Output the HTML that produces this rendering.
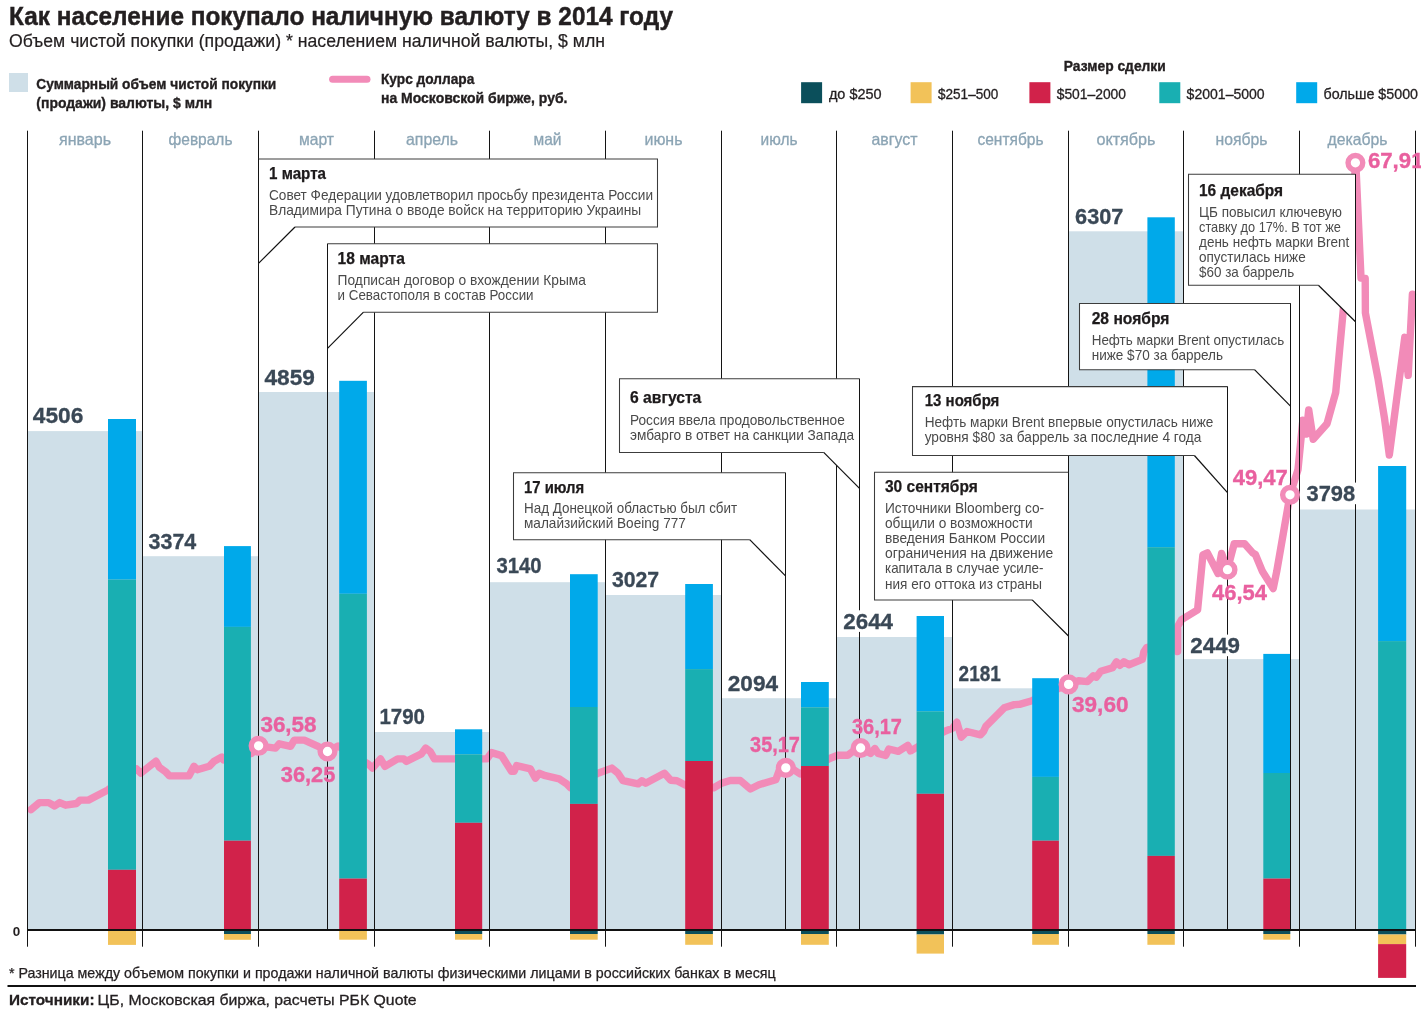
<!DOCTYPE html>
<html lang="ru"><head><meta charset="utf-8"><title>Как население покупало наличную валюту в 2014 году</title>
<style>html,body{margin:0;padding:0;background:#fff}svg{display:block}text{font-family:"Liberation Sans",Arial,sans-serif}.b{font-weight:bold}</style></head><body>
<svg width="1421" height="1012" viewBox="0 0 1421 1012">
<rect width="1421" height="1012" fill="#fff"/>
<text x="9" y="24.6" font-size="25" fill="#231F20" class="b" textLength="664" lengthAdjust="spacingAndGlyphs" stroke="#231F20" stroke-width="0.45">Как население покупало наличную валюту в 2014 году</text>
<text x="9" y="47.2" font-size="17.5" fill="#231F20" textLength="596" lengthAdjust="spacingAndGlyphs" stroke="#231F20" stroke-width="0.2">Объем чистой покупки (продажи) * населением наличной валюты, $ млн</text>
<rect x="9" y="73" width="19" height="19" fill="#CFDFE8"/>
<text x="36.3" y="89" font-size="14" fill="#231F20" class="b" textLength="240" lengthAdjust="spacingAndGlyphs" stroke="#231F20" stroke-width="0.35">Суммарный объем чистой покупки</text>
<text x="36.3" y="107.7" font-size="14" fill="#231F20" class="b" textLength="176" lengthAdjust="spacingAndGlyphs" stroke="#231F20" stroke-width="0.35">(продажи) валюты, $ млн</text>
<line x1="332.6" y1="79.2" x2="367" y2="79.2" stroke="#F28BB8" stroke-width="7" stroke-linecap="round"/>
<text x="381" y="83.6" font-size="14" fill="#231F20" class="b" textLength="93.3" lengthAdjust="spacingAndGlyphs" stroke="#231F20" stroke-width="0.35">Курс доллара</text>
<text x="381" y="102.9" font-size="14" fill="#231F20" class="b" textLength="186.5" lengthAdjust="spacingAndGlyphs" stroke="#231F20" stroke-width="0.35">на Московской бирже, руб.</text>
<text x="1063.8" y="71" font-size="14" fill="#231F20" class="b" textLength="102" lengthAdjust="spacingAndGlyphs" stroke="#231F20" stroke-width="0.35">Размер сделки</text>
<rect x="801.1" y="82.2" width="21" height="21" fill="#0B4F5B"/>
<text x="828.9" y="98.6" font-size="14" fill="#231F20" textLength="52.7" lengthAdjust="spacingAndGlyphs" stroke="#231F20" stroke-width="0.3">до $250</text>
<rect x="910.6" y="82.2" width="21" height="21" fill="#F2C259"/>
<text x="938" y="98.6" font-size="14" fill="#231F20" textLength="60.3" lengthAdjust="spacingAndGlyphs" stroke="#231F20" stroke-width="0.3">$251–500</text>
<rect x="1029.3999999999999" y="82.2" width="21" height="21" fill="#D1224A"/>
<text x="1056.7" y="98.6" font-size="14" fill="#231F20" textLength="69.3" lengthAdjust="spacingAndGlyphs" stroke="#231F20" stroke-width="0.3">$501–2000</text>
<rect x="1159.3" y="82.2" width="21" height="21" fill="#19AFB2"/>
<text x="1186.6" y="98.6" font-size="14" fill="#231F20" textLength="78.1" lengthAdjust="spacingAndGlyphs" stroke="#231F20" stroke-width="0.3">$2001–5000</text>
<rect x="1296.1999999999998" y="82.2" width="21" height="21" fill="#00A9EA"/>
<text x="1323.5" y="98.6" font-size="14" fill="#231F20" textLength="94.5" lengthAdjust="spacingAndGlyphs" stroke="#231F20" stroke-width="0.3">больше $5000</text>
<rect x="27.5" y="431.1" width="115.0" height="498.9" fill="#CFDFE8"/>
<rect x="142.5" y="556.2" width="116.0" height="373.8" fill="#CFDFE8"/>
<rect x="258.5" y="392.0" width="116.0" height="538.0" fill="#CFDFE8"/>
<rect x="374.5" y="732.0" width="115.0" height="198.0" fill="#CFDFE8"/>
<rect x="489.5" y="582.2" width="116.0" height="347.8" fill="#CFDFE8"/>
<rect x="605.5" y="595.0" width="116.0" height="335.0" fill="#CFDFE8"/>
<rect x="721.5" y="698.2" width="115.0" height="231.8" fill="#CFDFE8"/>
<rect x="836.5" y="637.0" width="116.0" height="293.0" fill="#CFDFE8"/>
<rect x="952.5" y="688.3" width="116.0" height="241.7" fill="#CFDFE8"/>
<rect x="1068.5" y="231.3" width="115.0" height="698.7" fill="#CFDFE8"/>
<rect x="1183.5" y="659.1" width="116.0" height="270.9" fill="#CFDFE8"/>
<rect x="1299.5" y="509.5" width="116.0" height="420.5" fill="#CFDFE8"/>
<path d="M31,809.6 L39.4,802.6 L48.7,802.6 L54.6,806 L59.7,802.6 L65.6,805.2 L76.6,803.5 L80,800.1 L88.4,800.1 L107.8,790 L136.5,768.8 L140.8,773.1 L156,761.2 L159.3,767.2 L165.2,771.4 L169.5,775.9 L188.9,775.9 L194,766.3 L197.3,769.7 L209.2,766.3 L214.2,761.2 L221.8,757 L223.5,760 L251.7,753.4 L258.5,745.8 L275.5,748.1 L279.3,743.8 L290.6,746.3 L294.3,740.1 L304.3,740.1 L318.1,746.3 L327.4,751.9 L338,746 L368,763.9 L372.5,768.1 L380.5,758.9 L385,766.4 L397.6,758.9 L403.8,758.9 L406.3,761.4 L421.4,753.9 L425.6,748.1 L430.1,751.4 L434.4,758.9 L455.2,758.9 L487,758.9 L491.5,752.6 L501.5,755.6 L511.6,771.4 L514.1,771.4 L516.6,765.6 L530.4,768.9 L535.4,778.2 L539.1,773.2 L545.4,775.7 L559.2,778.9 L566.7,783.9 L570.4,787.7 L598,773.2 L611.8,768.1 L618,773.2 L623,780.7 L638.1,783.9 L641.8,780.7 L645.6,783.2 L664.4,773.2 L670.7,780.2 L676.9,780.7 L685.7,785.2 L713.8,787.8 L721.7,783.1 L730.2,780.5 L740.3,780.5 L750.4,789 L758.9,784.8 L767.3,782.2 L775.8,779.7 L779.2,770.4 L785.9,767.7 L792.7,769 L800.2,774 L830.3,758.2 L837.8,755.2 L847.8,755.2 L852.8,751.4 L860.8,747.7 L870.5,753.4 L874.9,748.6 L878.1,753.4 L885.7,755.5 L888.8,749 L898.3,751.3 L907.8,745.4 L910.4,751 L915.4,748.1 L944.2,731.5 L952.7,728.1 L956.9,722.2 L961.3,737.2 L967,731.5 L980.5,734.8 L983.5,731.5 L985.8,726.4 L1004.2,707.8 L1014.3,704.6 L1019.5,704.4 L1032,700.7 L1060,688 L1068.8,684.6 L1078.5,680.8 L1087.4,681.6 L1093.4,675.7 L1096.3,677.2 L1100.8,671.3 L1112.6,667.7 L1116.5,661.8 L1120,665.3 L1123.9,661.8 L1129,664.7 L1142.3,659.4 L1143.8,652 L1146.7,647.5 L1176.5,640 L1177.6,651.6 L1177.6,626.5 L1181.6,619.6 L1197.6,609.8 L1202.9,554.9 L1207.4,552.9 L1218,573.5 L1221.6,553.5 L1227.4,569.6 L1234.2,543.8 L1244.6,543.8 L1252.7,552.9 L1255.4,554.5 L1262.5,571.6 L1273.2,588.5 L1276.7,571.6 L1284.6,526 L1290,494.9 L1298,469.6 L1302.8,420.3 L1306.3,434.1 L1308.7,409.9 L1313.2,439.3 L1327,423.7 L1335.7,392.6 L1343.3,309.7 L1355.8,163 L1361,278 L1365.2,278.5 L1365.4,313 L1378,378.5 L1384.4,417.6 L1389.3,455 L1404.8,337.3 L1408.2,375.3 L1412.4,294.1" fill="none" stroke="#F28BB8" stroke-width="7.4" stroke-linejoin="round" stroke-linecap="round"/>
<rect x="108.0" y="419.0" width="28.0" height="160.6" fill="#00A9EA"/>
<rect x="108.0" y="579.6" width="28.0" height="290.2" fill="#19AFB2"/>
<rect x="108.0" y="869.8" width="28.0" height="60.2" fill="#D1224A"/>
<rect x="108.0" y="930.0" width="28.0" height="14.9" fill="#F2C259"/>
<rect x="224.0" y="546.1" width="26.9" height="80.8" fill="#00A9EA"/>
<rect x="224.0" y="626.9" width="26.9" height="213.8" fill="#19AFB2"/>
<rect x="224.0" y="840.7" width="26.9" height="89.3" fill="#D1224A"/>
<rect x="224.0" y="930.0" width="26.9" height="4.0" fill="#0B4F5B"/>
<rect x="224.0" y="934.0" width="26.9" height="5.8" fill="#F2C259"/>
<rect x="339.2" y="380.8" width="27.7" height="213.0" fill="#00A9EA"/>
<rect x="339.2" y="593.8" width="27.7" height="284.8" fill="#19AFB2"/>
<rect x="339.2" y="878.6" width="27.7" height="51.4" fill="#D1224A"/>
<rect x="339.2" y="930.0" width="27.7" height="0.8" fill="#0B4F5B"/>
<rect x="339.2" y="930.8" width="27.7" height="8.9" fill="#F2C259"/>
<rect x="455.0" y="729.3" width="27.2" height="25.0" fill="#00A9EA"/>
<rect x="455.0" y="754.3" width="27.2" height="68.5" fill="#19AFB2"/>
<rect x="455.0" y="822.8" width="27.2" height="107.2" fill="#D1224A"/>
<rect x="455.0" y="930.0" width="27.2" height="4.0" fill="#0B4F5B"/>
<rect x="455.0" y="934.0" width="27.2" height="5.7" fill="#F2C259"/>
<rect x="570.0" y="574.2" width="27.7" height="132.8" fill="#00A9EA"/>
<rect x="570.0" y="707.0" width="27.7" height="96.9" fill="#19AFB2"/>
<rect x="570.0" y="803.9" width="27.7" height="126.1" fill="#D1224A"/>
<rect x="570.0" y="930.0" width="27.7" height="4.0" fill="#0B4F5B"/>
<rect x="570.0" y="934.0" width="27.7" height="5.7" fill="#F2C259"/>
<rect x="685.2" y="584.0" width="27.7" height="85.1" fill="#00A9EA"/>
<rect x="685.2" y="669.1" width="27.7" height="91.9" fill="#19AFB2"/>
<rect x="685.2" y="761.0" width="27.7" height="169.0" fill="#D1224A"/>
<rect x="685.2" y="930.0" width="27.7" height="4.0" fill="#0B4F5B"/>
<rect x="685.2" y="934.0" width="27.7" height="10.8" fill="#F2C259"/>
<rect x="801.0" y="682.0" width="27.8" height="25.3" fill="#00A9EA"/>
<rect x="801.0" y="707.3" width="27.8" height="58.7" fill="#19AFB2"/>
<rect x="801.0" y="766.0" width="27.8" height="164.0" fill="#D1224A"/>
<rect x="801.0" y="930.0" width="27.8" height="4.0" fill="#0B4F5B"/>
<rect x="801.0" y="934.0" width="27.8" height="10.8" fill="#F2C259"/>
<rect x="916.6" y="616.0" width="27.4" height="95.3" fill="#00A9EA"/>
<rect x="916.6" y="711.3" width="27.4" height="82.5" fill="#19AFB2"/>
<rect x="916.6" y="793.8" width="27.4" height="136.2" fill="#D1224A"/>
<rect x="916.6" y="930.0" width="27.4" height="4.5" fill="#0B4F5B"/>
<rect x="916.6" y="934.5" width="27.4" height="19.1" fill="#F2C259"/>
<rect x="1032.2" y="678.2" width="26.7" height="98.7" fill="#00A9EA"/>
<rect x="1032.2" y="776.9" width="26.7" height="63.8" fill="#19AFB2"/>
<rect x="1032.2" y="840.7" width="26.7" height="89.3" fill="#D1224A"/>
<rect x="1032.2" y="930.0" width="26.7" height="4.0" fill="#0B4F5B"/>
<rect x="1032.2" y="934.0" width="26.7" height="10.8" fill="#F2C259"/>
<rect x="1147.4" y="217.3" width="27.4" height="329.9" fill="#00A9EA"/>
<rect x="1147.4" y="547.2" width="27.4" height="308.7" fill="#19AFB2"/>
<rect x="1147.4" y="855.9" width="27.4" height="74.1" fill="#D1224A"/>
<rect x="1147.4" y="930.0" width="27.4" height="4.0" fill="#0B4F5B"/>
<rect x="1147.4" y="934.0" width="27.4" height="10.8" fill="#F2C259"/>
<rect x="1263.3" y="653.9" width="27.0" height="119.1" fill="#00A9EA"/>
<rect x="1263.3" y="773.0" width="27.0" height="105.6" fill="#19AFB2"/>
<rect x="1263.3" y="878.6" width="27.0" height="51.4" fill="#D1224A"/>
<rect x="1263.3" y="930.0" width="27.0" height="4.0" fill="#0B4F5B"/>
<rect x="1263.3" y="934.0" width="27.0" height="5.7" fill="#F2C259"/>
<rect x="1378.1" y="466.0" width="28.1" height="175.1" fill="#00A9EA"/>
<rect x="1378.1" y="641.1" width="28.1" height="288.9" fill="#19AFB2"/>
<rect x="1378.1" y="930.0" width="28.1" height="4.5" fill="#0B4F5B"/>
<rect x="1378.1" y="934.5" width="28.1" height="9.6" fill="#F2C259"/>
<rect x="1378.1" y="944.1" width="28.1" height="33.8" fill="#D1224A"/>
<line x1="27.5" y1="130.7" x2="27.5" y2="946.7" stroke="#141414" stroke-width="1"/>
<line x1="142.5" y1="130.7" x2="142.5" y2="946.7" stroke="#141414" stroke-width="1"/>
<line x1="258.5" y1="130.7" x2="258.5" y2="946.7" stroke="#141414" stroke-width="1"/>
<line x1="374.5" y1="130.7" x2="374.5" y2="946.7" stroke="#141414" stroke-width="1"/>
<line x1="489.5" y1="130.7" x2="489.5" y2="946.7" stroke="#141414" stroke-width="1"/>
<line x1="605.5" y1="130.7" x2="605.5" y2="946.7" stroke="#141414" stroke-width="1"/>
<line x1="721.5" y1="130.7" x2="721.5" y2="946.7" stroke="#141414" stroke-width="1"/>
<line x1="836.5" y1="130.7" x2="836.5" y2="946.7" stroke="#141414" stroke-width="1"/>
<line x1="952.5" y1="130.7" x2="952.5" y2="946.7" stroke="#141414" stroke-width="1"/>
<line x1="1068.5" y1="130.7" x2="1068.5" y2="946.7" stroke="#141414" stroke-width="1"/>
<line x1="1183.5" y1="130.7" x2="1183.5" y2="946.7" stroke="#141414" stroke-width="1"/>
<line x1="1299.5" y1="130.7" x2="1299.5" y2="946.7" stroke="#141414" stroke-width="1"/>
<line x1="1415.5" y1="130.7" x2="1415.5" y2="946.7" stroke="#141414" stroke-width="1"/>
<text x="59.0" y="144.8" font-size="16.5" fill="#8BA4B4" textLength="52" lengthAdjust="spacingAndGlyphs" stroke="#8BA4B4" stroke-width="0.3">январь</text>
<text x="168.5" y="144.8" font-size="16.5" fill="#8BA4B4" textLength="64" lengthAdjust="spacingAndGlyphs" stroke="#8BA4B4" stroke-width="0.3">февраль</text>
<text x="299.0" y="144.8" font-size="16.5" fill="#8BA4B4" textLength="35" lengthAdjust="spacingAndGlyphs" stroke="#8BA4B4" stroke-width="0.3">март</text>
<text x="406.0" y="144.8" font-size="16.5" fill="#8BA4B4" textLength="52" lengthAdjust="spacingAndGlyphs" stroke="#8BA4B4" stroke-width="0.3">апрель</text>
<text x="533.5" y="144.8" font-size="16.5" fill="#8BA4B4" textLength="28" lengthAdjust="spacingAndGlyphs" stroke="#8BA4B4" stroke-width="0.3">май</text>
<text x="644.5" y="144.8" font-size="16.5" fill="#8BA4B4" textLength="38" lengthAdjust="spacingAndGlyphs" stroke="#8BA4B4" stroke-width="0.3">июнь</text>
<text x="760.5" y="144.8" font-size="16.5" fill="#8BA4B4" textLength="37" lengthAdjust="spacingAndGlyphs" stroke="#8BA4B4" stroke-width="0.3">июль</text>
<text x="871.5" y="144.8" font-size="16.5" fill="#8BA4B4" textLength="46" lengthAdjust="spacingAndGlyphs" stroke="#8BA4B4" stroke-width="0.3">август</text>
<text x="977.5" y="144.8" font-size="16.5" fill="#8BA4B4" textLength="66" lengthAdjust="spacingAndGlyphs" stroke="#8BA4B4" stroke-width="0.3">сентябрь</text>
<text x="1096.5" y="144.8" font-size="16.5" fill="#8BA4B4" textLength="59" lengthAdjust="spacingAndGlyphs" stroke="#8BA4B4" stroke-width="0.3">октябрь</text>
<text x="1215.5" y="144.8" font-size="16.5" fill="#8BA4B4" textLength="52" lengthAdjust="spacingAndGlyphs" stroke="#8BA4B4" stroke-width="0.3">ноябрь</text>
<text x="1327.5" y="144.8" font-size="16.5" fill="#8BA4B4" textLength="60" lengthAdjust="spacingAndGlyphs" stroke="#8BA4B4" stroke-width="0.3">декабрь</text>
<line x1="27" y1="930" x2="1416" y2="930" stroke="#111" stroke-width="2"/>
<text x="12.8" y="935.5" font-size="12.4" fill="#231F20" class="b" textLength="7.5" lengthAdjust="spacingAndGlyphs" >0</text>
<line x1="258.5" y1="159.0" x2="258.5" y2="930" stroke="#141414" stroke-width="1"/>
<line x1="327.5" y1="243.8" x2="327.5" y2="930" stroke="#141414" stroke-width="1"/>
<line x1="859.5" y1="378.8" x2="859.5" y2="930" stroke="#141414" stroke-width="1"/>
<line x1="785.5" y1="472.8" x2="785.5" y2="930" stroke="#141414" stroke-width="1"/>
<line x1="1227.5" y1="386.6" x2="1227.5" y2="930" stroke="#141414" stroke-width="1"/>
<line x1="1068.5" y1="472.2" x2="1068.5" y2="930" stroke="#141414" stroke-width="1"/>
<line x1="1290.5" y1="303.4" x2="1290.5" y2="930" stroke="#141414" stroke-width="1"/>
<line x1="1355.5" y1="174.2" x2="1355.5" y2="930" stroke="#141414" stroke-width="1"/>
<polygon points="258.5,159.0 657.5,159.0 657.5,227.0 295.0,227.0 258.5,263.4" fill="#fff"/>
<polyline points="258.5,159.0 657.5,159.0 657.5,227.0 295.0,227.0" fill="none" stroke="#3c3c3c" stroke-width="1.05"/>
<line x1="295.0" y1="227.0" x2="258.5" y2="263.4" stroke="#111" stroke-width="1.2"/>
<line x1="258.5" y1="159.0" x2="258.5" y2="263.4" stroke="#141414" stroke-width="1"/>
<text x="269.0" y="178.6" font-size="16" fill="#1d1a1b" class="b" textLength="57" lengthAdjust="spacingAndGlyphs" stroke="#1d1a1b" stroke-width="0.25">1 марта</text>
<text x="269.0" y="199.7" font-size="14.5" fill="#4a4a4a" textLength="384" lengthAdjust="spacingAndGlyphs" >Совет Федерации удовлетворил просьбу президента России</text>
<text x="269.0" y="214.8" font-size="14.5" fill="#4a4a4a" textLength="372.2" lengthAdjust="spacingAndGlyphs" >Владимира Путина о вводе войск на территорию Украины</text>
<polygon points="327.5,243.8 657.5,243.8 657.5,312.2 363.5,312.2 327.5,348.3" fill="#fff"/>
<polyline points="327.5,243.8 657.5,243.8 657.5,312.2 363.5,312.2" fill="none" stroke="#3c3c3c" stroke-width="1.05"/>
<line x1="363.5" y1="312.2" x2="327.5" y2="348.3" stroke="#111" stroke-width="1.2"/>
<line x1="327.5" y1="243.8" x2="327.5" y2="348.3" stroke="#141414" stroke-width="1"/>
<text x="337.6" y="263.6" font-size="16" fill="#1d1a1b" class="b" textLength="67.2" lengthAdjust="spacingAndGlyphs" stroke="#1d1a1b" stroke-width="0.25">18 марта</text>
<text x="337.6" y="285.2" font-size="14.5" fill="#4a4a4a" textLength="248.4" lengthAdjust="spacingAndGlyphs" >Подписан договор о вхождении Крыма</text>
<text x="337.6" y="300.0" font-size="14.5" fill="#4a4a4a" textLength="196" lengthAdjust="spacingAndGlyphs" >и Севастополя в состав России</text>
<polygon points="619.5,378.8 859.5,378.8 859.5,488.3 823.7,452.4 619.5,452.4" fill="#fff"/>
<polyline points="823.7,452.4 619.5,452.4 619.5,378.8 859.5,378.8" fill="none" stroke="#3c3c3c" stroke-width="1.05"/>
<line x1="823.7" y1="452.4" x2="859.5" y2="488.3" stroke="#111" stroke-width="1.2"/>
<line x1="859.5" y1="378.8" x2="859.5" y2="488.3" stroke="#141414" stroke-width="1"/>
<text x="630.0" y="403.1" font-size="16" fill="#1d1a1b" class="b" textLength="71.3" lengthAdjust="spacingAndGlyphs" stroke="#1d1a1b" stroke-width="0.25">6 августа</text>
<text x="630.0" y="425" font-size="14.5" fill="#4a4a4a" textLength="214.8" lengthAdjust="spacingAndGlyphs" >Россия ввела продовольственное</text>
<text x="630.0" y="440.2" font-size="14.5" fill="#4a4a4a" textLength="224" lengthAdjust="spacingAndGlyphs" >эмбарго в ответ на санкции Запада</text>
<polygon points="513.5,472.8 785.5,472.8 785.5,575.9 749.7,539.7 513.5,539.7" fill="#fff"/>
<polyline points="749.7,539.7 513.5,539.7 513.5,472.8 785.5,472.8" fill="none" stroke="#3c3c3c" stroke-width="1.05"/>
<line x1="749.7" y1="539.7" x2="785.5" y2="575.9" stroke="#111" stroke-width="1.2"/>
<line x1="785.5" y1="472.8" x2="785.5" y2="575.9" stroke="#141414" stroke-width="1"/>
<text x="524.0" y="492.8" font-size="16" fill="#1d1a1b" class="b" textLength="60.2" lengthAdjust="spacingAndGlyphs" stroke="#1d1a1b" stroke-width="0.25">17 июля</text>
<text x="524.0" y="513.2" font-size="14.5" fill="#4a4a4a" textLength="213.2" lengthAdjust="spacingAndGlyphs" >Над Донецкой областью был сбит</text>
<text x="524.0" y="528.4" font-size="14.5" fill="#4a4a4a" textLength="161.8" lengthAdjust="spacingAndGlyphs" >малайзийский Boeing 777</text>
<polygon points="912.5,386.6 1227.5,386.6 1227.5,492.6 1194.4,455.5 912.5,455.5" fill="#fff"/>
<polyline points="1194.4,455.5 912.5,455.5 912.5,386.6 1227.5,386.6" fill="none" stroke="#3c3c3c" stroke-width="1.05"/>
<line x1="1194.4" y1="455.5" x2="1227.5" y2="492.6" stroke="#111" stroke-width="1.2"/>
<line x1="1227.5" y1="386.6" x2="1227.5" y2="492.6" stroke="#141414" stroke-width="1"/>
<text x="924.7" y="405.7" font-size="16" fill="#1d1a1b" class="b" textLength="74.7" lengthAdjust="spacingAndGlyphs" stroke="#1d1a1b" stroke-width="0.25">13 ноября</text>
<text x="924.7" y="427.4" font-size="14.5" fill="#4a4a4a" textLength="288.6" lengthAdjust="spacingAndGlyphs" >Нефть марки Brent впервые опустилась ниже</text>
<text x="924.7" y="442.4" font-size="14.5" fill="#4a4a4a" textLength="276.7" lengthAdjust="spacingAndGlyphs" >уровня $80 за баррель за последние 4 года</text>
<polygon points="874.5,472.2 1068.5,472.2 1068.5,636 1032.2,599.9 874.5,599.9" fill="#fff"/>
<polyline points="1032.2,599.9 874.5,599.9 874.5,472.2 1068.5,472.2" fill="none" stroke="#3c3c3c" stroke-width="1.05"/>
<line x1="1032.2" y1="599.9" x2="1068.5" y2="636" stroke="#111" stroke-width="1.2"/>
<line x1="1068.5" y1="472.2" x2="1068.5" y2="636" stroke="#141414" stroke-width="1"/>
<text x="885.0" y="492.1" font-size="16" fill="#1d1a1b" class="b" textLength="92.7" lengthAdjust="spacingAndGlyphs" stroke="#1d1a1b" stroke-width="0.25">30 сентября</text>
<text x="885.0" y="513" font-size="14.5" fill="#4a4a4a" textLength="159.2" lengthAdjust="spacingAndGlyphs" >Источники Bloomberg со-</text>
<text x="885.0" y="528.1" font-size="14.5" fill="#4a4a4a" textLength="147.7" lengthAdjust="spacingAndGlyphs" >общили о возможности</text>
<text x="885.0" y="543.2" font-size="14.5" fill="#4a4a4a" textLength="160.2" lengthAdjust="spacingAndGlyphs" >введения Банком России</text>
<text x="885.0" y="558.3" font-size="14.5" fill="#4a4a4a" textLength="168.3" lengthAdjust="spacingAndGlyphs" >ограничения на движение</text>
<text x="885.0" y="573.4" font-size="14.5" fill="#4a4a4a" textLength="158.5" lengthAdjust="spacingAndGlyphs" >капитала в случае усиле-</text>
<text x="885.0" y="588.5" font-size="14.5" fill="#4a4a4a" textLength="156.9" lengthAdjust="spacingAndGlyphs" >ния его оттока из страны</text>
<polygon points="1079.5,303.4 1290.5,303.4 1290.5,406.1 1254.5,369.7 1079.5,369.7" fill="#fff"/>
<polyline points="1254.5,369.7 1079.5,369.7 1079.5,303.4 1290.5,303.4" fill="none" stroke="#3c3c3c" stroke-width="1.05"/>
<line x1="1254.5" y1="369.7" x2="1290.5" y2="406.1" stroke="#111" stroke-width="1.2"/>
<line x1="1290.5" y1="303.4" x2="1290.5" y2="406.1" stroke="#141414" stroke-width="1"/>
<text x="1091.7" y="323.7" font-size="16" fill="#1d1a1b" class="b" textLength="77.7" lengthAdjust="spacingAndGlyphs" stroke="#1d1a1b" stroke-width="0.25">28 ноября</text>
<text x="1091.7" y="345.3" font-size="14.5" fill="#4a4a4a" textLength="192.5" lengthAdjust="spacingAndGlyphs" >Нефть марки Brent опустилась</text>
<text x="1091.7" y="359.8" font-size="14.5" fill="#4a4a4a" textLength="131.4" lengthAdjust="spacingAndGlyphs" >ниже $70 за баррель</text>
<polygon points="1188.5,174.2 1355.5,174.2 1355.5,321.7 1318.4,285.2 1188.5,285.2" fill="#fff"/>
<polyline points="1318.4,285.2 1188.5,285.2 1188.5,174.2 1355.5,174.2" fill="none" stroke="#3c3c3c" stroke-width="1.05"/>
<line x1="1318.4" y1="285.2" x2="1355.5" y2="321.7" stroke="#111" stroke-width="1.2"/>
<line x1="1355.5" y1="174.2" x2="1355.5" y2="321.7" stroke="#141414" stroke-width="1"/>
<text x="1199.0" y="195.5" font-size="16" fill="#1d1a1b" class="b" textLength="84.1" lengthAdjust="spacingAndGlyphs" stroke="#1d1a1b" stroke-width="0.25">16 декабря</text>
<text x="1199.0" y="216.5" font-size="14.5" fill="#4a4a4a" textLength="142.8" lengthAdjust="spacingAndGlyphs" >ЦБ повысил ключевую</text>
<text x="1199.0" y="231.6" font-size="14.5" fill="#4a4a4a" textLength="141.9" lengthAdjust="spacingAndGlyphs" >ставку до 17%. В тот же</text>
<text x="1199.0" y="246.7" font-size="14.5" fill="#4a4a4a" textLength="150.3" lengthAdjust="spacingAndGlyphs" >день нефть марки Brent</text>
<text x="1199.0" y="261.8" font-size="14.5" fill="#4a4a4a" textLength="106.7" lengthAdjust="spacingAndGlyphs" >опустилась ниже</text>
<text x="1199.0" y="277" font-size="14.5" fill="#4a4a4a" textLength="95.2" lengthAdjust="spacingAndGlyphs" >$60 за баррель</text>
<rect x="29.8" y="404.4" width="55.6" height="21.6" fill="#fff"/>
<text x="32.8" y="423" font-size="22" fill="#3A4856" class="b" textLength="50.6" lengthAdjust="spacingAndGlyphs" stroke="#3A4856" stroke-width="0.3">4506</text>
<rect x="145.6" y="529.9" width="52.7" height="21.6" fill="#fff"/>
<text x="148.6" y="548.5" font-size="22" fill="#3A4856" class="b" textLength="47.7" lengthAdjust="spacingAndGlyphs" stroke="#3A4856" stroke-width="0.3">3374</text>
<rect x="261.5" y="365.9" width="55.4" height="21.6" fill="#fff"/>
<text x="264.5" y="384.5" font-size="22" fill="#3A4856" class="b" textLength="50.4" lengthAdjust="spacingAndGlyphs" stroke="#3A4856" stroke-width="0.3">4859</text>
<rect x="376.4" y="705.6" width="50.6" height="21.6" fill="#fff"/>
<text x="379.4" y="724.2" font-size="22" fill="#3A4856" class="b" textLength="45.6" lengthAdjust="spacingAndGlyphs" stroke="#3A4856" stroke-width="0.3">1790</text>
<rect x="493.4" y="554.2" width="50.2" height="21.6" fill="#fff"/>
<text x="496.4" y="572.8" font-size="22" fill="#3A4856" class="b" textLength="45.2" lengthAdjust="spacingAndGlyphs" stroke="#3A4856" stroke-width="0.3">3140</text>
<rect x="608.9" y="568.8" width="52.3" height="21.6" fill="#fff"/>
<text x="611.9" y="587.4" font-size="22" fill="#3A4856" class="b" textLength="47.3" lengthAdjust="spacingAndGlyphs" stroke="#3A4856" stroke-width="0.3">3027</text>
<rect x="724.8" y="672.1" width="55.3" height="21.6" fill="#fff"/>
<text x="727.8" y="690.7" font-size="22" fill="#3A4856" class="b" textLength="50.3" lengthAdjust="spacingAndGlyphs" stroke="#3A4856" stroke-width="0.3">2094</text>
<rect x="840.3" y="610.3" width="54.7" height="21.6" fill="#fff"/>
<text x="843.3" y="628.9" font-size="22" fill="#3A4856" class="b" textLength="49.7" lengthAdjust="spacingAndGlyphs" stroke="#3A4856" stroke-width="0.3">2644</text>
<rect x="955.6" y="662.0" width="47.2" height="21.6" fill="#fff"/>
<text x="958.6" y="680.6" font-size="22" fill="#3A4856" class="b" textLength="42.2" lengthAdjust="spacingAndGlyphs" stroke="#3A4856" stroke-width="0.3">2181</text>
<rect x="1072.1" y="205.5" width="53.3" height="21.6" fill="#fff"/>
<text x="1075.1" y="224.1" font-size="22" fill="#3A4856" class="b" textLength="48.3" lengthAdjust="spacingAndGlyphs" stroke="#3A4856" stroke-width="0.3">6307</text>
<rect x="1187.3" y="634.6" width="54.7" height="21.6" fill="#fff"/>
<text x="1190.3" y="653.2" font-size="22" fill="#3A4856" class="b" textLength="49.7" lengthAdjust="spacingAndGlyphs" stroke="#3A4856" stroke-width="0.3">2449</text>
<rect x="1303.5" y="482.6" width="53.7" height="21.6" fill="#fff"/>
<text x="1306.5" y="501.2" font-size="22" fill="#3A4856" class="b" textLength="48.7" lengthAdjust="spacingAndGlyphs" stroke="#3A4856" stroke-width="0.3">3798</text>
<circle cx="258.6" cy="745.8" r="7.35" fill="#fff" stroke="#F28BB8" stroke-width="5.4"/>
<circle cx="327.5" cy="751.5" r="7.35" fill="#fff" stroke="#F28BB8" stroke-width="5.4"/>
<circle cx="785.8" cy="767.9" r="7.35" fill="#fff" stroke="#F28BB8" stroke-width="5.4"/>
<circle cx="860.6" cy="748.0" r="7.35" fill="#fff" stroke="#F28BB8" stroke-width="5.4"/>
<circle cx="1068.6" cy="684.4" r="7.35" fill="#fff" stroke="#F28BB8" stroke-width="5.4"/>
<circle cx="1227.5" cy="569.7" r="7.35" fill="#fff" stroke="#F28BB8" stroke-width="5.4"/>
<circle cx="1290.0" cy="494.8" r="7.35" fill="#fff" stroke="#F28BB8" stroke-width="5.4"/>
<circle cx="1355.4" cy="162.8" r="7.35" fill="#fff" stroke="#F28BB8" stroke-width="5.4"/>
<text x="260.4" y="732.4" font-size="21.5" fill="#E9609F" class="b" textLength="56.2" lengthAdjust="spacingAndGlyphs" stroke="#E9609F" stroke-width="0.35">36,58</text>
<text x="280.8" y="781.8" font-size="21.5" fill="#E9609F" class="b" textLength="54.6" lengthAdjust="spacingAndGlyphs" stroke="#E9609F" stroke-width="0.35">36,25</text>
<text x="750.1" y="752.2" font-size="21.5" fill="#E9609F" class="b" textLength="49.8" lengthAdjust="spacingAndGlyphs" stroke="#E9609F" stroke-width="0.35">35,17</text>
<text x="852.0" y="733.8" font-size="21.5" fill="#E9609F" class="b" textLength="49.8" lengthAdjust="spacingAndGlyphs" stroke="#E9609F" stroke-width="0.35">36,17</text>
<text x="1072" y="712.4" font-size="21.5" fill="#E9609F" class="b" textLength="56.5" lengthAdjust="spacingAndGlyphs" stroke="#E9609F" stroke-width="0.35">39,60</text>
<text x="1212" y="600.3" font-size="21.5" fill="#E9609F" class="b" textLength="55" lengthAdjust="spacingAndGlyphs" stroke="#E9609F" stroke-width="0.35">46,54</text>
<text x="1232.7" y="484.7" font-size="21.5" fill="#E9609F" class="b" textLength="55.0" lengthAdjust="spacingAndGlyphs" stroke="#E9609F" stroke-width="0.35">49,47</text>
<text x="1367.9" y="167.8" font-size="21.5" fill="#E9609F" class="b" textLength="55.6" lengthAdjust="spacingAndGlyphs" stroke="#E9609F" stroke-width="0.35">67,91</text>
<text x="8.9" y="977.5" font-size="14.2" fill="#231F20" textLength="766.8" lengthAdjust="spacingAndGlyphs" stroke="#231F20" stroke-width="0.25">* Разница между объемом покупки и продажи наличной валюты физическими лицами в российских банках в месяц</text>
<line x1="7.5" y1="986" x2="1416" y2="986" stroke="#111" stroke-width="2.2"/>
<text x="8.9" y="1004.6" font-size="15" fill="#231F20" stroke="#231F20" stroke-width="0.3"><tspan class="b" textLength="85.7" lengthAdjust="spacingAndGlyphs">Источники:</tspan><tspan dx="3" textLength="319" lengthAdjust="spacingAndGlyphs">ЦБ, Московская биржа, расчеты РБК Quote</tspan></text>
</svg></body></html>
